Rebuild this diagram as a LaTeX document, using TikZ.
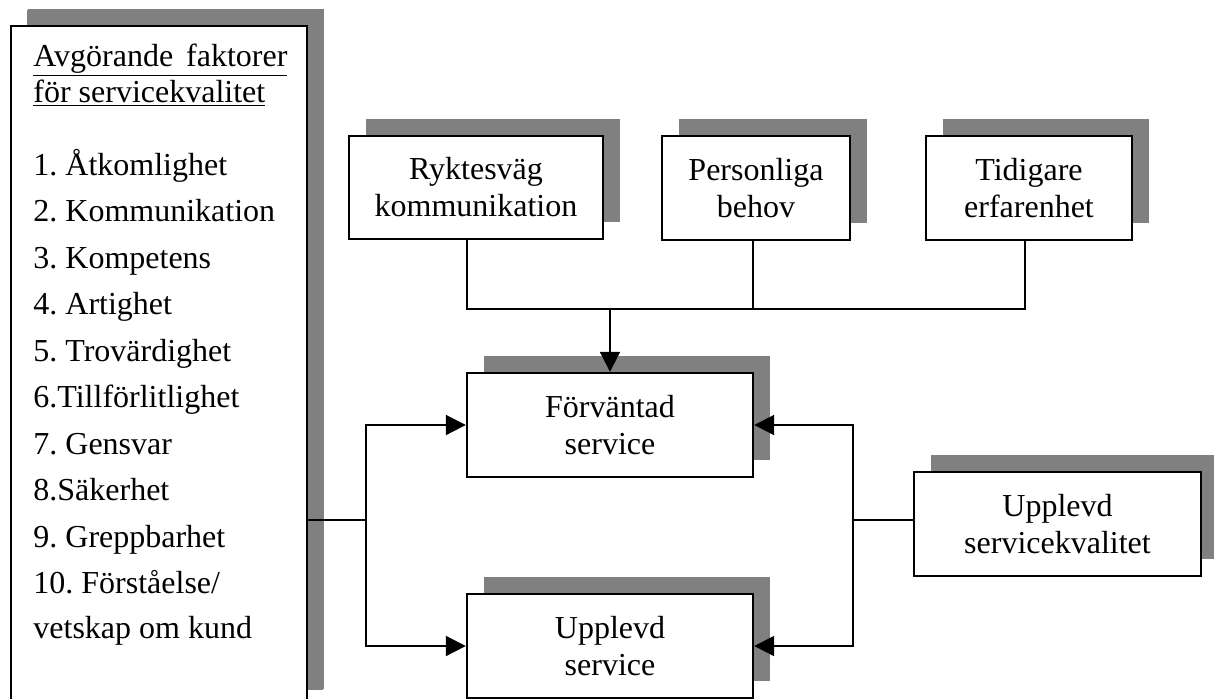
\documentclass[tikz,border=0pt]{standalone}
\usepackage{fontspec}
\setmainfont{Liberation Serif}
\frenchspacing
\usetikzlibrary{shadows,arrows.meta}

\begin{document}
\begin{tikzpicture}[x=0.5pt,y=-0.5pt,
  font=\fontsize{16}{18.5}\selectfont,
  box/.style={draw,line width=1.2pt,fill=white,align=center,
    drop shadow={shadow xshift=8.5pt,shadow yshift=8.5pt,fill=black!50,opacity=1}},
  txt/.style={anchor=base west,inner sep=0pt},
  pil/.style={line width=1pt,-{Triangle[length=10pt,width=10pt]}}]
  \useasboundingbox (0,0) rectangle (1214,698);

  % faktorer
  \node[box,minimum width=148pt,minimum height=340pt,
    drop shadow={shadow xshift=8pt,shadow yshift=8pt,fill=black!50,opacity=1}] (fak) at (159,366) {};
  \node[txt] (h1) at (33,66) {\underline{Avgörande\hspace{6.5pt}faktorer}};
  \node[txt] (h2) at (33,102) {\underline{för servicekvalitet}};
  \foreach \i/\txt in {1/1. Åtkomlighet,2/2. Kommunikation,3/3. Kompetens,4/4. Artighet,
    5/5. Trovärdighet,6/6.Tillförlitlighet,7/7. Gensvar,8/8.Säkerhet,9/9. Greppbarhet}
    \node[txt] (f\i) at (33,{175+46.5*(\i-1)}) {\txt};
  \node[txt] (f10) at (33,593.5) {10. Förståelse/};
  \node[txt] (f11) at (33,638) {vetskap om kund};

  % rutor
  \node[box,minimum width=127pt,minimum height=51.5pt] (ryk) at (476,187.5) {Ryktesväg\\kommunikation};
  \node[box,minimum width=94pt,minimum height=52pt] (pers) at (756,188) {Personliga\\behov};
  \node[box,minimum width=103pt,minimum height=52pt] (tid) at (1029,188) {Tidigare\\erfarenhet};
  \node[box,minimum width=143pt,minimum height=52pt] (forv) at (610,425) {Förväntad\\service};
  \node[box,minimum width=143pt,minimum height=52pt] (uppl) at (610,646) {Upplevd\\service};
  \node[box,minimum width=143.5pt,minimum height=52pt] (usk) at (1057.5,524) {Upplevd\\servicekvalitet};

  \coordinate (tj) at (608,309);
  \coordinate (lj) at (366,520);
  \coordinate (rj) at (853,520);

  \draw[line width=1pt] ([xshift=-4.5pt]ryk.south) |- ([xshift=-2pt]tid.south |- tj) -- ([xshift=-2pt]tid.south);
  \draw[line width=1pt] ([xshift=-1.5pt]pers.south) -- ([xshift=-1.5pt]pers.south |- tj);
  \draw[pil] (forv.north |- tj) -- (forv.north);
  \draw[line width=1pt] (fak.east |- lj) -- (lj);
  \draw[pil] (lj) |- (forv.west);
  \draw[pil] (lj) |- (uppl.west);
  \draw[line width=1pt] (usk.west |- rj) -- (rj);
  \draw[pil] (rj) |- (forv.east);
  \draw[pil] (rj) |- (uppl.east);
\end{tikzpicture}
\end{document}
